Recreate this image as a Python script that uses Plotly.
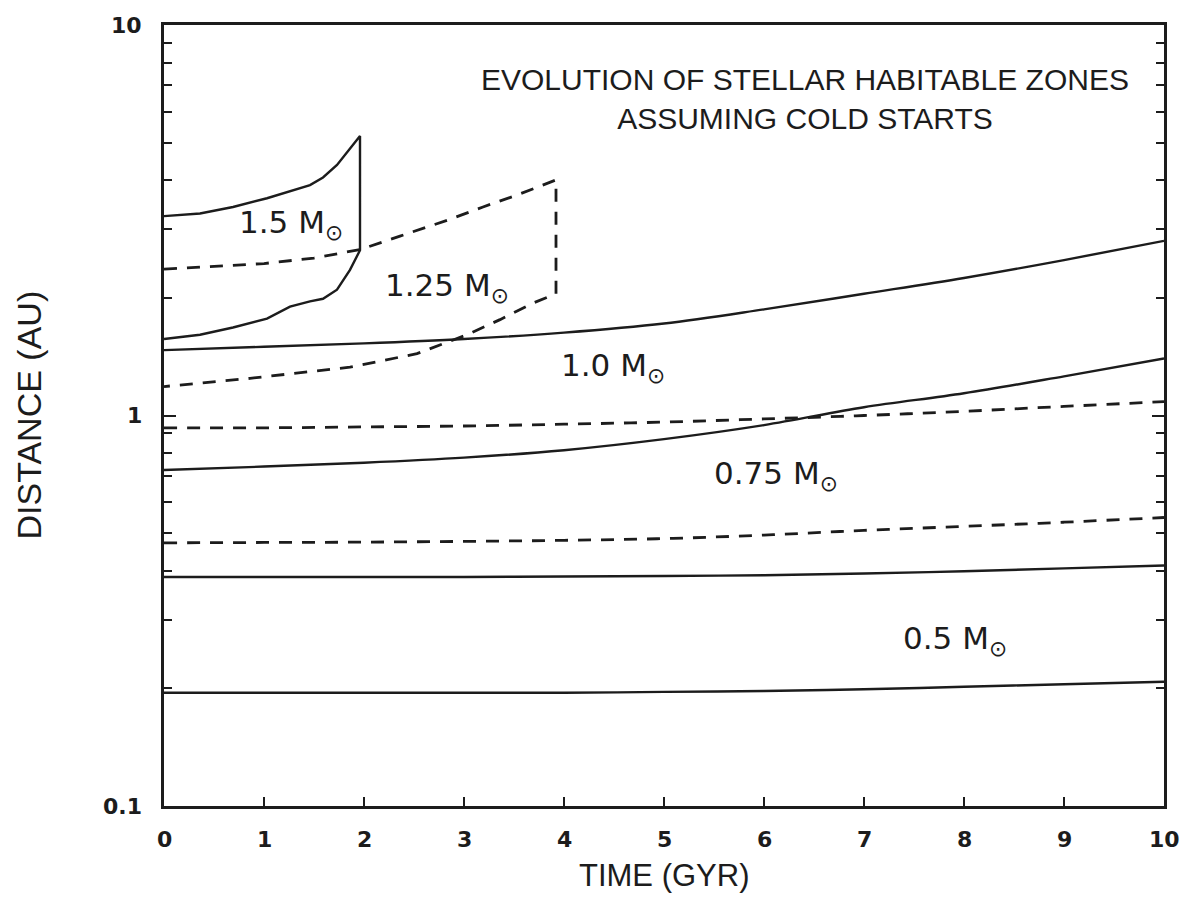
import numpy as np
import plotly.graph_objects as go

# ---------------- data ----------------
# 1.5 Msun habitable zone (solid, closed at its end of main sequence)
t_15_outer = [0, 0.36, 0.69, 1.03, 1.46, 1.59, 1.73, 1.96]
d_15_outer = [3.24, 3.29, 3.42, 3.60, 3.89, 4.07, 4.38, 5.20]
t_15_inner = [1.96, 1.86, 1.73, 1.59, 1.46, 1.26, 1.03, 0.69, 0.36, 0]
d_15_inner = [2.65, 2.36, 2.10, 1.99, 1.96, 1.90, 1.77, 1.68, 1.61, 1.57]

# 1.25 Msun habitable zone (dashed, closed)
t_125_outer = [0, 1.0, 1.5, 1.96, 2.36, 2.86, 3.19, 3.53, 3.92]
d_125_outer = [2.37, 2.45, 2.53, 2.66, 2.88, 3.18, 3.42, 3.67, 4.01]
t_125_inner = [3.92, 3.69, 3.36, 3.03, 2.53, 1.86, 0.86, 0]
d_125_inner = [2.05, 1.94, 1.76, 1.61, 1.44, 1.33, 1.245, 1.186]

# 1.0, 0.75, 0.5 Msun (time grid in Gyr)
t_grid = [0, 1, 2, 3, 4, 5, 6, 7, 8, 9, 10]
d_10_outer = [1.47, 1.50, 1.53, 1.57, 1.63, 1.72, 1.87, 2.05, 2.25, 2.50, 2.80]
d_10_inner = [0.93, 0.93, 0.935, 0.94, 0.95, 0.962, 0.98, 1.0, 1.025, 1.055, 1.085]
d_075_outer = [0.725, 0.74, 0.757, 0.78, 0.815, 0.87, 0.945, 1.05, 1.14, 1.26, 1.40]
d_075_inner = [0.472, 0.473, 0.474, 0.476, 0.479, 0.484, 0.494, 0.508, 0.52, 0.533, 0.548]
d_05_outer = [0.386, 0.386, 0.386, 0.386, 0.387, 0.388, 0.390, 0.394, 0.399, 0.406, 0.413]
d_05_inner = [0.195, 0.195, 0.195, 0.195, 0.195, 0.196, 0.197, 0.199, 0.202, 0.205, 0.208]

# curve labels
label_texts = ["1.5 M<sub>⊙</sub>", "1.25 M<sub>⊙</sub>", "1.0 M<sub>⊙</sub>",
               "0.75 M<sub>⊙</sub>", "0.5 M<sub>⊙</sub>"]
label_t = [1.27, 2.83, 4.49, 6.12, 7.91]
label_d = [3.08, 2.13, 1.33, 0.70, 0.266]

x_ticks = [0, 1, 2, 3, 4, 5, 6, 7, 8, 9, 10]
x_ticktext = ["0", "1", "2", "3", "4", "5", "6", "7", "8", "9", "10"]
y_ticks = [0.1, 1, 10]
y_ticktext = ["0.1", "1", "10"]
y_minor = [0.2, 0.3, 0.4, 0.5, 0.6, 0.7, 0.8, 0.9, 2, 3, 4, 5, 6, 7, 8, 9]

title_lines = ["EVOLUTION OF STELLAR HABITABLE ZONES", "ASSUMING COLD STARTS"]
x_title = "TIME (GYR)"
y_title = "DISTANCE (AU)"

# ---------------- figure ----------------
INK = "#1c1c1c"
FONT = "Liberation Sans, Arial, sans-serif"
WIDE = "DejaVu Sans, Verdana, sans-serif"
solid = dict(color=INK, width=2.4)
dashed = dict(color=INK, width=2.8, dash="13px,10px")

fig = go.Figure()

fig.add_trace(go.Scatter(x=t_15_outer + t_15_inner, y=d_15_outer + d_15_inner,
                         mode="lines", line=solid, showlegend=False))
fig.add_trace(go.Scatter(x=t_125_outer + t_125_inner, y=d_125_outer + d_125_inner,
                         mode="lines", line=dashed, showlegend=False))
for d, style in [(d_10_outer, solid), (d_10_inner, dashed),
                 (d_075_outer, solid), (d_075_inner, dashed),
                 (d_05_outer, solid), (d_05_inner, solid)]:
    fig.add_trace(go.Scatter(x=t_grid, y=d, mode="lines", line=style,
                             line_shape="spline", showlegend=False))

# curve labels
for txt, tx, dy in zip(label_texts, label_t, label_d):
    fig.add_annotation(x=tx, y=np.log10(dy), xref="x", yref="y", text=txt,
                       showarrow=False, font=dict(family=WIDE, size=31, color=INK),
                       xanchor="center", yanchor="middle")

# in-plot title
fig.add_annotation(x=0.641, y=0.905, xref="paper", yref="paper",
                   text="<br>".join(title_lines), showarrow=False,
                   font=dict(family=FONT, size=30, color=INK),
                   xanchor="center", yanchor="middle", align="center")

# tick labels (as text placed at the axis positions)
for v, s in zip(x_ticks, x_ticktext):
    fig.add_annotation(x=v, y=-0.0435, xref="x", yref="paper", text=s,
                       showarrow=False, borderpad=0,
                       font=dict(family=WIDE, size=22, color=INK, weight="bold"),
                       xanchor="center", yanchor="middle")
for v, s in zip(y_ticks, y_ticktext):
    fig.add_annotation(x=-0.021, y=np.log10(v), xref="paper", yref="y", text=s,
                       showarrow=False, borderpad=0,
                       font=dict(family=WIDE, size=22, color=INK, weight="bold"),
                       xanchor="right", yanchor="middle")

# axis titles
fig.add_annotation(x=0.5, y=-0.0885, xref="paper", yref="paper", text=x_title,
                   showarrow=False, borderpad=0,
                   font=dict(family=FONT, size=31, color=INK),
                   xanchor="center", yanchor="middle")
fig.add_annotation(x=-0.136, y=0.5, xref="paper", yref="paper", text=y_title,
                   showarrow=False, textangle=-90, borderpad=0,
                   font=dict(family=FONT, size=34, color=INK),
                   xanchor="center", yanchor="middle")

fig.update_layout(
    width=1182, height=911,
    margin=dict(l=156, r=26, t=17, b=113),
    paper_bgcolor="white", plot_bgcolor="white",
    showlegend=False,
    xaxis=dict(
        range=[0, 10], tickmode="array", tickvals=x_ticks,
        showticklabels=False,
        ticks="inside", ticklen=9, tickwidth=2,
        tickcolor=INK, showline=True, linecolor=INK, linewidth=3, mirror=True,
        showgrid=False, zeroline=False,
    ),
    yaxis=dict(
        type="log", range=[-1, 1], tickmode="array", tickvals=y_ticks,
        showticklabels=False,
        ticks="inside", ticklen=12, tickwidth=2, tickcolor=INK,
        minor=dict(tickvals=y_minor, ticks="inside", ticklen=8, tickwidth=2,
                   tickcolor=INK, showgrid=False),
        showline=True, linecolor=INK, linewidth=3, mirror="ticks",
        showgrid=False, zeroline=False,
    ),
)

fig.write_html("out.html")
